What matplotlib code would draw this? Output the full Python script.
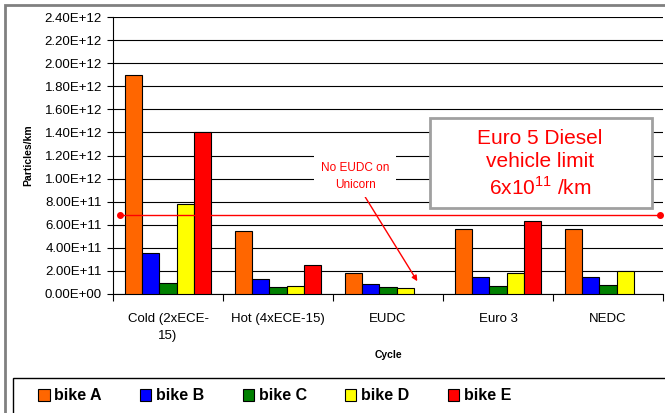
import matplotlib.pyplot as plt
import numpy as np
from matplotlib.patches import Rectangle

plt.rcParams['font.family'] = ['Liberation Sans', 'DejaVu Sans']

# data
cycles = ["Cold (2xECE-\n15)", "Hot (4xECE-15)", "EUDC", "Euro 3", "NEDC"]
bikes = ["bike A", "bike B", "bike C", "bike D", "bike E"]
bike_a = [1.90e12, 5.45e11, 1.80e11, 5.60e11, 5.60e11]
bike_b = [3.55e11, 1.30e11, 8.7e10, 1.45e11, 1.45e11]
bike_c = [9.5e10, 6.0e10, 6.0e10, 7.0e10, 8.0e10]
bike_d = [7.80e11, 7.0e10, 5.0e10, 1.80e11, 2.00e11]
bike_e = [1.40e12, 2.50e11, np.nan, 6.35e11, np.nan]
limit = 6.85e11
colors = ["#FF6600", "#0000FF", "#008000", "#FFFF00", "#FF0000"]

fig = plt.figure(figsize=(6.65, 4.13), dpi=100)
# outer chart frame
fig.patches.append(Rectangle((5/665, -0.1), 1.2, 1 - 5/413 + 0.1, transform=fig.transFigure,
                             fill=False, edgecolor="#808080", linewidth=2))

ax = fig.add_axes([113/665, 1 - 294/413, 550/665, 277/413])
x = np.arange(len(cycles))
w = 0.155
series = [bike_a, bike_b, bike_c, bike_d, bike_e]
for i, (vals, c, name) in enumerate(zip(series, colors, bikes)):
    ax.bar(x + (i - 2) * w, vals, w, color=c, edgecolor="black", linewidth=0.8,
           label=name, zorder=3)

ax.set_xlim(-0.5, 4.5)
ax.set_ylim(0, 2.4e12)
yt = np.arange(0, 2.41e12, 2e11)
ax.set_yticks(yt)
ax.set_yticklabels(["%.2fE+%02d" % (v / 10**int(np.floor(np.log10(v))), int(np.floor(np.log10(v))))
                    if v > 0 else "0.00E+00" for v in yt], fontsize=9.5)
ax.grid(axis="y", color="black", linewidth=0.8, zorder=0)
ax.set_xticks(np.arange(-0.5, 5, 1))
ax.set_xticklabels([])
ax.set_xticks(x, minor=True)
ax.set_xticklabels(cycles, minor=True, fontsize=9.5, linespacing=1.5)
ax.tick_params(axis="x", which="minor", length=0, pad=14)
ax.tick_params(axis="x", which="major", length=5, direction="out")
ax.tick_params(axis="y", length=4, direction="out", pad=4)
for s in ["top", "right"]:
    ax.spines[s].set_visible(False)
ax.set_xlabel("Cycle", fontsize=7.5, fontweight="bold", labelpad=6)
ax.set_ylabel("Particles/km", fontsize=7.5, fontweight="bold", labelpad=8)

# limit line
ax.plot([-0.44, 4.47], [limit, limit], color="red", linewidth=1, marker="o",
        markersize=4, clip_on=False, zorder=4)

# annotations
ax.annotate("", xy=(2.28, 0.9e11), xytext=(1.78, 8.6e11),
            arrowprops=dict(arrowstyle="-|>", color="red", lw=1, mutation_scale=8), zorder=5)
ax.text(1.70, 1.02e12, "No EUDC on\nUnicorn", color="red", fontsize=8.5, ha="center", va="center",
        bbox=dict(facecolor="white", edgecolor="none", pad=5), zorder=5, linespacing=1.5)
ax.add_patch(Rectangle((0.576, 0.31), 0.404, 0.325, transform=ax.transAxes, facecolor="white",
                       edgecolor="#A0A0A0", linewidth=2, zorder=5))
ax.text(0.776, 0.47, "Euro 5 Diesel\nvehicle limit\n6x10$^{\\mathregular{11}}$ /km",
        transform=ax.transAxes, color="red", fontsize=15, ha="center", va="center",
        linespacing=1.25, zorder=6)

# legend box
fig.patches.append(Rectangle((13/665, -0.1), 1.2, 0.1 + (413 - 378) / 413, transform=fig.transFigure,
                             fill=False, edgecolor="black", linewidth=1))
handles, labels = ax.get_legend_handles_labels()
fig.legend(handles, labels, ncol=5, loc="center left", bbox_to_anchor=(24/665, 17/413),
           frameon=False, prop=dict(size=11.5, weight="bold"), handlelength=0.7, handleheight=0.7,
           handletextpad=0.3, columnspacing=2.4)

fig.savefig("out.png", dpi=100)
